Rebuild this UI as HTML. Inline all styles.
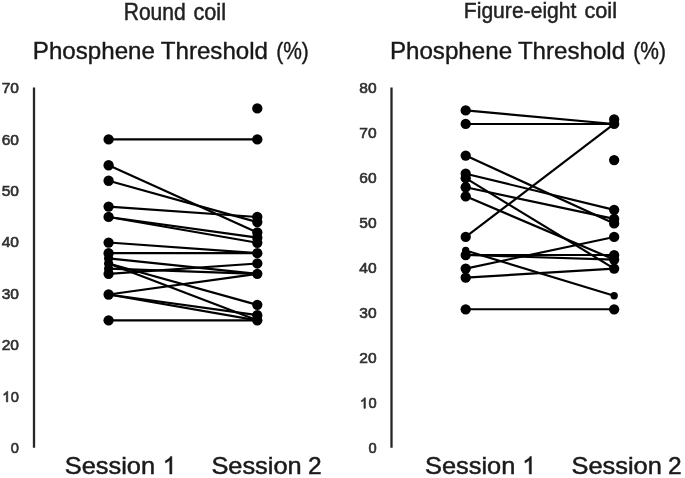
<!DOCTYPE html>
<html><head><meta charset="utf-8"><title>Phosphene Threshold</title>
<style>
html,body{margin:0;padding:0;background:#fff;}
body{width:685px;height:478px;overflow:hidden;font-family:"Liberation Sans",sans-serif;}
svg{display:block;filter:blur(0.55px);}
circle{stroke:none;}
text{font-family:"Liberation Sans",sans-serif;fill:#1a1a1a;stroke:none;}
.tk{font-size:14.7px;fill:#303030;stroke:#303030;stroke-width:0.6px;}
.t1{font-size:21.7px;fill:#222;stroke:#222;stroke-width:0.45px;}
.t2{font-size:24.5px;fill:#181818;stroke:#181818;stroke-width:0.4px;}
.s{font-size:24.5px;fill:#1a1a1a;stroke:#1a1a1a;stroke-width:0.5px;}
.tk1{fill:#303030;stroke:#303030;stroke-width:110px;stroke-linejoin:round;}
.s1{fill:#1a1a1a;stroke:#1a1a1a;stroke-width:42px;}
</style></head><body>
<svg width="685" height="478" viewBox="0 0 685 478">
<rect width="685" height="478" fill="#fff" stroke="none"/>
<g stroke="#000" stroke-width="2.15" fill="#000">
<line x1="34" y1="87.5" x2="34" y2="447.8" stroke="#262626" stroke-width="2.3"/>
<line x1="108.6" y1="139.40" x2="257.3" y2="139.40"/>
<line x1="108.6" y1="165.25" x2="257.3" y2="232.46"/>
<line x1="108.6" y1="180.76" x2="257.3" y2="222.12"/>
<line x1="108.6" y1="206.61" x2="257.3" y2="216.95"/>
<line x1="108.6" y1="216.95" x2="257.3" y2="237.63"/>
<line x1="108.6" y1="216.95" x2="257.3" y2="242.80"/>
<line x1="108.6" y1="242.54" x2="257.3" y2="253.14"/>
<line x1="108.6" y1="253.14" x2="257.3" y2="253.14"/>
<line x1="108.6" y1="258.31" x2="257.3" y2="273.82"/>
<line x1="108.6" y1="263.48" x2="257.3" y2="304.84"/>
<line x1="108.6" y1="263.48" x2="257.3" y2="320.35"/>
<line x1="108.6" y1="273.82" x2="257.3" y2="263.48"/>
<line x1="108.6" y1="268.65" x2="257.3" y2="273.82"/>
<line x1="108.6" y1="294.50" x2="257.3" y2="273.82"/>
<line x1="108.6" y1="294.50" x2="257.3" y2="315.18"/>
<line x1="108.6" y1="294.50" x2="257.3" y2="320.35"/>
<line x1="108.6" y1="320.35" x2="257.3" y2="320.35"/>
<circle cx="108.6" cy="139.40" r="5.15"/>
<circle cx="257.3" cy="139.40" r="5.15"/>
<circle cx="108.6" cy="165.25" r="5.15"/>
<circle cx="257.3" cy="232.46" r="5.15"/>
<circle cx="108.6" cy="180.76" r="5.15"/>
<circle cx="257.3" cy="222.12" r="5.15"/>
<circle cx="108.6" cy="206.61" r="5.15"/>
<circle cx="257.3" cy="216.95" r="5.15"/>
<circle cx="108.6" cy="216.95" r="5.15"/>
<circle cx="257.3" cy="237.63" r="5.15"/>
<circle cx="257.3" cy="242.80" r="5.15"/>
<circle cx="108.6" cy="242.54" r="5.15"/>
<circle cx="257.3" cy="253.14" r="5.15"/>
<circle cx="108.6" cy="253.14" r="5.15"/>
<circle cx="108.6" cy="258.31" r="4.6"/>
<circle cx="257.3" cy="273.82" r="5.15"/>
<circle cx="108.6" cy="263.48" r="4.6"/>
<circle cx="257.3" cy="304.84" r="5.15"/>
<circle cx="257.3" cy="320.35" r="5.15"/>
<circle cx="108.6" cy="273.82" r="5.15"/>
<circle cx="257.3" cy="263.48" r="5.15"/>
<circle cx="108.6" cy="268.65" r="4.6"/>
<circle cx="108.6" cy="294.50" r="5.15"/>
<circle cx="257.3" cy="315.18" r="5.15"/>
<circle cx="108.6" cy="320.35" r="5.15"/>
<circle cx="257.3" cy="108.38" r="5.15"/>
<line x1="391.5" y1="87.5" x2="391.5" y2="447.8" stroke="#262626" stroke-width="2.3"/>
<line x1="465.7" y1="110.40" x2="614.15" y2="123.96"/>
<line x1="465.7" y1="123.96" x2="614.15" y2="123.96"/>
<line x1="465.7" y1="155.60" x2="614.15" y2="223.40"/>
<line x1="465.7" y1="173.68" x2="614.15" y2="209.84"/>
<line x1="465.7" y1="178.20" x2="614.15" y2="268.60"/>
<line x1="465.7" y1="187.24" x2="614.15" y2="218.88"/>
<line x1="465.7" y1="196.28" x2="614.15" y2="259.56"/>
<line x1="465.7" y1="236.96" x2="614.15" y2="123.96"/>
<line x1="465.7" y1="250.52" x2="614.15" y2="295.72"/>
<line x1="465.7" y1="255.04" x2="614.15" y2="255.04"/>
<line x1="465.7" y1="255.04" x2="614.15" y2="259.56"/>
<line x1="465.7" y1="268.60" x2="614.15" y2="236.96"/>
<line x1="465.7" y1="277.64" x2="614.15" y2="268.60"/>
<line x1="465.7" y1="309.28" x2="614.15" y2="309.28"/>
<circle cx="465.7" cy="110.40" r="5.15"/>
<circle cx="614.15" cy="123.96" r="5.15"/>
<circle cx="465.7" cy="123.96" r="5.15"/>
<circle cx="465.7" cy="155.60" r="5.15"/>
<circle cx="614.15" cy="223.40" r="5.15"/>
<circle cx="465.7" cy="173.68" r="5.15"/>
<circle cx="614.15" cy="209.84" r="5.15"/>
<circle cx="465.7" cy="178.20" r="5.15"/>
<circle cx="614.15" cy="268.60" r="5.15"/>
<circle cx="465.7" cy="187.24" r="5.15"/>
<circle cx="614.15" cy="218.88" r="5.15"/>
<circle cx="465.7" cy="196.28" r="5.15"/>
<circle cx="614.15" cy="259.56" r="5.15"/>
<circle cx="465.7" cy="236.96" r="5.15"/>
<circle cx="465.7" cy="250.52" r="3.7"/>
<circle cx="614.15" cy="295.72" r="3.7"/>
<circle cx="465.7" cy="255.04" r="5.15"/>
<circle cx="614.15" cy="255.04" r="5.15"/>
<circle cx="465.7" cy="268.60" r="5.15"/>
<circle cx="614.15" cy="236.96" r="5.15"/>
<circle cx="465.7" cy="277.64" r="5.15"/>
<circle cx="465.7" cy="309.28" r="5.15"/>
<circle cx="614.15" cy="309.28" r="5.15"/>
<circle cx="614.15" cy="119.44" r="5.15"/>
<circle cx="614.15" cy="160.12" r="5.15"/>
</g>
<text class="tk" x="19.0" y="453.35" text-anchor="end">0</text>
<text class="tk" x="19.0" y="401.88" text-anchor="end">0</text><path class="tk1" transform="translate(2.26,401.88) scale(0.00713)" d="M763,0 L583,0 L583,-1147 Q518,-1085 412.5,-1023 Q307,-961 223,-930 L223,-1104 Q374,-1175 487,-1276 Q600,-1377 647,-1472 L763,-1472 Z"/>
<text class="tk" x="1.70" y="350.41" textLength="17.3" lengthAdjust="spacingAndGlyphs">20</text>
<text class="tk" x="1.70" y="298.94" textLength="17.3" lengthAdjust="spacingAndGlyphs">30</text>
<text class="tk" x="1.70" y="247.47" textLength="17.3" lengthAdjust="spacingAndGlyphs">40</text>
<text class="tk" x="1.70" y="196.00" textLength="17.3" lengthAdjust="spacingAndGlyphs">50</text>
<text class="tk" x="1.70" y="144.53" textLength="17.3" lengthAdjust="spacingAndGlyphs">60</text>
<text class="tk" x="1.70" y="93.06" textLength="17.3" lengthAdjust="spacingAndGlyphs">70</text>
<text class="tk" x="376.6" y="453.35" text-anchor="end">0</text>
<text class="tk" x="376.6" y="408.30" text-anchor="end">0</text><path class="tk1" transform="translate(359.86,408.30) scale(0.00713)" d="M763,0 L583,0 L583,-1147 Q518,-1085 412.5,-1023 Q307,-961 223,-930 L223,-1104 Q374,-1175 487,-1276 Q600,-1377 647,-1472 L763,-1472 Z"/>
<text class="tk" x="359.30" y="363.25" textLength="17.3" lengthAdjust="spacingAndGlyphs">20</text>
<text class="tk" x="359.30" y="318.20" textLength="17.3" lengthAdjust="spacingAndGlyphs">30</text>
<text class="tk" x="359.30" y="273.15" textLength="17.3" lengthAdjust="spacingAndGlyphs">40</text>
<text class="tk" x="359.30" y="228.10" textLength="17.3" lengthAdjust="spacingAndGlyphs">50</text>
<text class="tk" x="359.30" y="183.05" textLength="17.3" lengthAdjust="spacingAndGlyphs">60</text>
<text class="tk" x="359.30" y="138.00" textLength="17.3" lengthAdjust="spacingAndGlyphs">70</text>
<text class="tk" x="359.30" y="92.95" textLength="17.3" lengthAdjust="spacingAndGlyphs">80</text>
<text class="t1" transform="translate(123.7,20.3) scale(1,1.065)" textLength="62" lengthAdjust="spacingAndGlyphs">Round</text>
<text class="t1" transform="translate(225.95,20.3) scale(1,1.065)" text-anchor="end">coil</text>
<text class="t1" transform="translate(463.8,18.4) scale(1,1.02)" textLength="112.6" lengthAdjust="spacingAndGlyphs">Figure-eight</text>
<text class="t1" transform="translate(617.0,18.4) scale(1,1.02)" text-anchor="end">coil</text>
<text class="t2" x="32.8" y="58.6" textLength="122.2" lengthAdjust="spacingAndGlyphs">Phosphene</text>
<text class="t2" x="160.8" y="58.6" textLength="107.2" lengthAdjust="spacingAndGlyphs">Threshold</text>
<text class="t2" x="276.2" y="58.6" textLength="32.6" lengthAdjust="spacingAndGlyphs">(%)</text>
<text class="t2" x="389.9" y="58.6" textLength="122.2" lengthAdjust="spacingAndGlyphs">Phosphene</text>
<text class="t2" x="517.9" y="58.6" textLength="107.2" lengthAdjust="spacingAndGlyphs">Threshold</text>
<text class="t2" x="633.3" y="58.6" textLength="32.6" lengthAdjust="spacingAndGlyphs">(%)</text>
<text class="s" x="64.8" y="474.0" textLength="90.3" lengthAdjust="spacingAndGlyphs">Session</text>
<path class="s1" transform="translate(162.77,474.0) scale(0.01196)" d="M763,0 L583,0 L583,-1147 Q518,-1085 412.5,-1023 Q307,-961 223,-930 L223,-1104 Q374,-1175 487,-1276 Q600,-1377 647,-1472 L763,-1472 Z"/>
<text class="s" x="211.4" y="474.0" textLength="90.3" lengthAdjust="spacingAndGlyphs">Session</text>
<text class="s" x="321.6" y="474.0" text-anchor="end">2</text>
<text class="s" x="425.0" y="474.0" textLength="90.3" lengthAdjust="spacingAndGlyphs">Session</text>
<path class="s1" transform="translate(522.27,474.0) scale(0.01196)" d="M763,0 L583,0 L583,-1147 Q518,-1085 412.5,-1023 Q307,-961 223,-930 L223,-1104 Q374,-1175 487,-1276 Q600,-1377 647,-1472 L763,-1472 Z"/>
<text class="s" x="571.5" y="474.0" textLength="90.3" lengthAdjust="spacingAndGlyphs">Session</text>
<text class="s" x="681.6" y="474.0" text-anchor="end">2</text>
</svg>
</body></html>
